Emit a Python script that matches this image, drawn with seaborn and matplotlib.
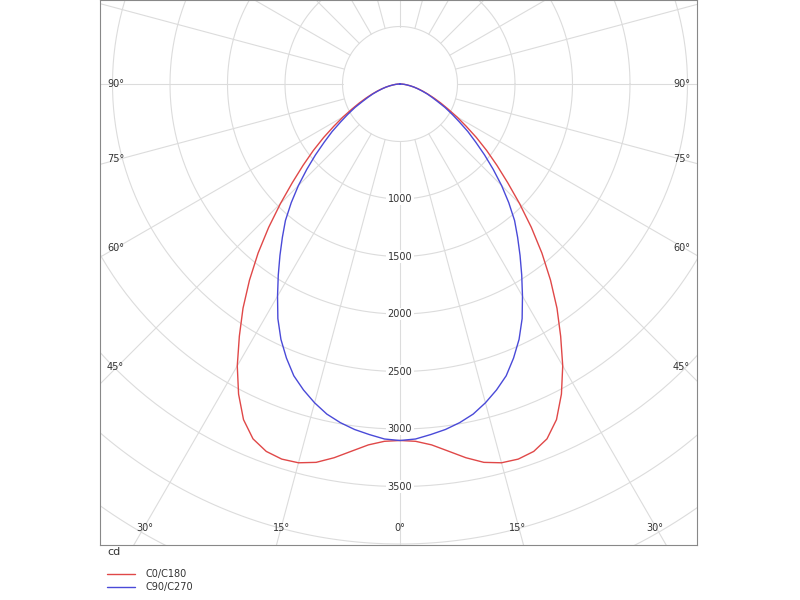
import numpy as np
import pandas as pd
import matplotlib
matplotlib.use("Agg")
import matplotlib.pyplot as plt
import seaborn as sns

angles = [0, 2.5, 5, 7.5, 10, 12.5, 15, 17.5, 20, 22.5, 25, 27.5, 30, 32.5, 35, 37.5, 40, 42.5, 45,
          47.5, 50, 52.5, 55, 57.5, 60, 62.5, 65, 67.5, 70, 72.5, 75, 77.5, 80, 82.5, 85, 87.5, 90]
c0_c180 = [3100, 3110, 3150, 3220, 3300, 3370, 3410, 3420, 3400, 3340, 3220, 3040, 2830, 2600, 2380, 2150, 1920, 1690, 1470,
           1270, 1100, 950, 810, 680, 570, 470, 390, 320, 260, 210, 165, 125, 90, 60, 38, 18, 0]
c90_c270 = [3100, 3090, 3060, 3030, 2990, 2940, 2870, 2790, 2700, 2580, 2450, 2300, 2130, 1970, 1820, 1680, 1550, 1400, 1250,
            1100, 960, 830, 720, 610, 520, 440, 360, 300, 250, 200, 160, 125, 90, 60, 38, 18, 0]
series_names = ["C0/C180", "C90/C270"]
radial_ticks = [1000, 1500, 2000, 2500, 3000, 3500]
side_labels = ["45°", "60°", "75°", "90°"]
bottom_labels = ["0°", "15°", "30°"]

sns.set_style("white")
plt.rcParams['font.family'] = ['DejaVu Sans']

rows = []
n = len(angles)
for name, vals in zip(series_names, [c0_c180, c90_c270]):
    a = np.array(angles[::-1] + angles[1:], float)
    sign = np.array([-1] * n + [1] * (n - 1))
    v = np.array(vals[::-1] + vals[1:], float)
    th = np.deg2rad(a)
    for i, (t, s, r) in enumerate(zip(th, sign, v)):
        rows.append(dict(series=name, order=i, x=s * r * np.sin(t), y=r * np.cos(t)))
df = pd.DataFrame(rows)

k = 0.115  # px per cd
fig = plt.figure(figsize=(8, 6), dpi=100)
ax = fig.add_axes([100 / 800, 55 / 600, 597 / 800, 545 / 600])
xmin, xmax = (100 - 400) / k, (697 - 400) / k
ymin, ymax = -84 / k, (545 - 84) / k
ax.set_xlim(xmin, xmax)
ax.set_ylim(ymax, ymin)

gc = "#dcdcdc"
t = np.linspace(0, 2 * np.pi, 400)
for r in range(500, 5001, 500):
    ax.plot(r * np.cos(t), r * np.sin(t), color=gc, lw=0.8, zorder=1)
for d in range(0, 360, 15):
    th = np.deg2rad(d)
    ax.plot([500 * np.sin(th), 6000 * np.sin(th)], [500 * np.cos(th), 6000 * np.cos(th)], color=gc, lw=0.8, zorder=1)

sns.lineplot(data=df, x="x", y="y", hue="series", sort=False, estimator=None, units="series",
             palette={"C0/C180": "#e04848", "C90/C270": "#4a4ad8"}, lw=1.0, ax=ax, legend=False, zorder=3)

for r in radial_ticks:
    ax.text(0, r, str(r), ha="center", va="center", fontsize=7, color="#333333", zorder=4,
            bbox=dict(facecolor="white", edgecolor="none", pad=1))
fy = {"45°": 367, "60°": 248, "75°": 159, "90°": 84}
for lab in side_labels:
    y = (fy[lab] - 84) / k
    ax.text(xmin + 60, y, lab, ha="left", va="center", fontsize=7, color="#333333")
    ax.text(xmax - 60, y, lab, ha="right", va="center", fontsize=7, color="#333333")
fx = {"0°": 0, "15°": 118, "30°": 255}
yb = (528 - 84) / k
for lab in bottom_labels:
    ax.text(fx[lab] / k, yb, lab, ha="center", va="center", fontsize=7, color="#333333")
    if lab != "0°":
        ax.text(-fx[lab] / k, yb, lab, ha="center", va="center", fontsize=7, color="#333333")

ax.set_xticks([]); ax.set_yticks([])
ax.set_xlabel(""); ax.set_ylabel("")
for s in ax.spines.values():
    s.set_color("#888888"); s.set_linewidth(0.8); s.set_visible(True)

fig.text(107 / 800, 1 - 552 / 600, "cd", fontsize=8, va="center", color="#333333")
for name, col, yy in [("C0/C180", "#e04848", 574), ("C90/C270", "#4a4ad8", 587)]:
    fig.add_artist(plt.Line2D([107 / 800, 135 / 800], [1 - yy / 600] * 2, color=col, lw=1))
    fig.text(145 / 800, 1 - yy / 600, name, fontsize=7, va="center", color="#333333")

fig.savefig("out.png", dpi=100)
